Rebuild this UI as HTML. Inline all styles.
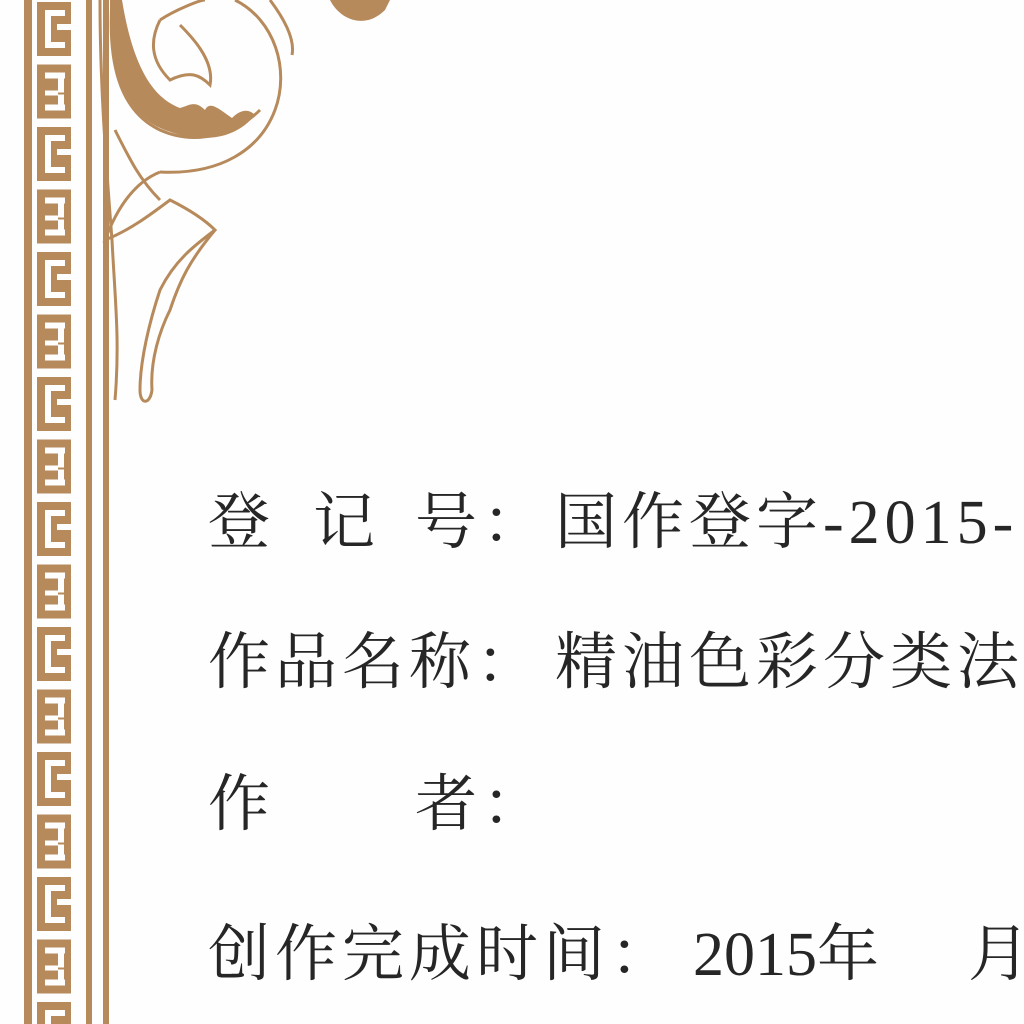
<!DOCTYPE html>
<html><head><meta charset="utf-8">
<style>
html,body{margin:0;padding:0;background:#fff;}
#page{position:relative;width:1024px;height:1024px;overflow:hidden;background:#fefefe;}
.t{position:absolute;font-family:"Liberation Serif","Noto Serif CJK SC",serif;font-size:62px;line-height:62px;color:#262626;letter-spacing:5px;white-space:nowrap;}
.g{color:#262626}
</style></head>
<body>
<div id="page">
<svg width="1024" height="1024" style="position:absolute;left:0;top:0">
  <rect x="24" y="0" width="8" height="1024" fill="#b78a5c"/>
  <rect x="86" y="0" width="6" height="1024" fill="#b78a5c"/>
  <rect x="103" y="0" width="6" height="1024" fill="#b78a5c"/>
  <g id="blocks"></g>
  <g fill="none" stroke="#b78a5c" stroke-width="3">
    <path d="M100 0 C100 80 105 150 112 240 C115 300 120 340 115 400" />
    <path d="M112 0 C108 60 118 110 160 130 C200 148 240 130 260 110"/>
    <path d="M235 0 C275 20 290 70 275 110 C260 150 220 175 160 172"/>
    <path d="M160 172 C140 180 120 200 105 240 C130 230 150 215 170 200 C190 210 205 220 215 230 C195 245 175 260 160 290 C150 320 140 360 140 390 C140 405 150 405 152 390 C150 360 160 330 170 310 C180 280 190 260 215 230"/>
    <path d="M160 20 C175 10 200 0 205 0 M160 20 C150 40 150 60 170 80 C190 70 200 75 210 85 C215 60 190 35 180 25"/>
    <path d="M270 0 C285 20 295 40 292 55"/>
    <path d="M115 130 C130 160 140 180 160 200"/>
  </g>
  <path d="M110 0 C110 60 120 110 160 128 C200 145 235 140 255 115 C248 108 240 110 232 118 C220 110 210 100 205 110 C195 100 190 105 180 108 C160 100 135 80 122 0 Z" fill="#b78a5c"/>
  <path d="M330 0 C340 20 365 30 385 10 L390 0 Z" fill="#b78a5c"/>
</svg>

<div class="t" style="left:208px;top:492px">登</div>
<div class="t" style="left:313px;top:492px">记</div>
<div class="t" style="left:415px;top:492px">号：</div>
<div class="t" style="left:555px;top:492px">国作登字-2015-</div>

<div class="t" style="left:208px;top:632px">作品名称：</div>
<div class="t" style="left:555px;top:632px">精油色彩分类法</div>

<div class="t" style="left:208px;top:774px">作</div>
<div class="t" style="left:415px;top:774px">者：</div>

<div class="t" style="left:208px;top:924px">创作完成时间：</div>
<div class="t" style="left:693px;top:924px;letter-spacing:0">2015年</div>
<div class="t" style="left:968px;top:924px">月</div>
</div>
<script>
const g=document.getElementById('blocks');
const ns='http://www.w3.org/2000/svg';
for(let i=-1;i<17;i++){
  const y=i*62.5+2;
  const r=document.createElementNS(ns,'rect');
  r.setAttribute('x',37);r.setAttribute('y',y);r.setAttribute('width',34);r.setAttribute('height',54);r.setAttribute('fill','#b78a5c');
  
  
  g.appendChild(r);
  const cuts = i%2===0 ? [[45,y+8,20,6],[45,y+8,6,38],[45,y+40,20,6],[57,y+22,14,6]] : [[45,y+8,20,6],[58,y+8,6,20],[45,y+26,13,5],[45,y+40,20,6],[58,y+30,6,16]];
  cuts.forEach(c=>{
    const w=document.createElementNS(ns,'rect');
    w.setAttribute('x',c[0]);w.setAttribute('y',c[1]);w.setAttribute('width',c[2]);w.setAttribute('height',c[3]);w.setAttribute('fill','#fefefe');
    
    
    g.appendChild(w);
  });
}
</script>
</body></html>
